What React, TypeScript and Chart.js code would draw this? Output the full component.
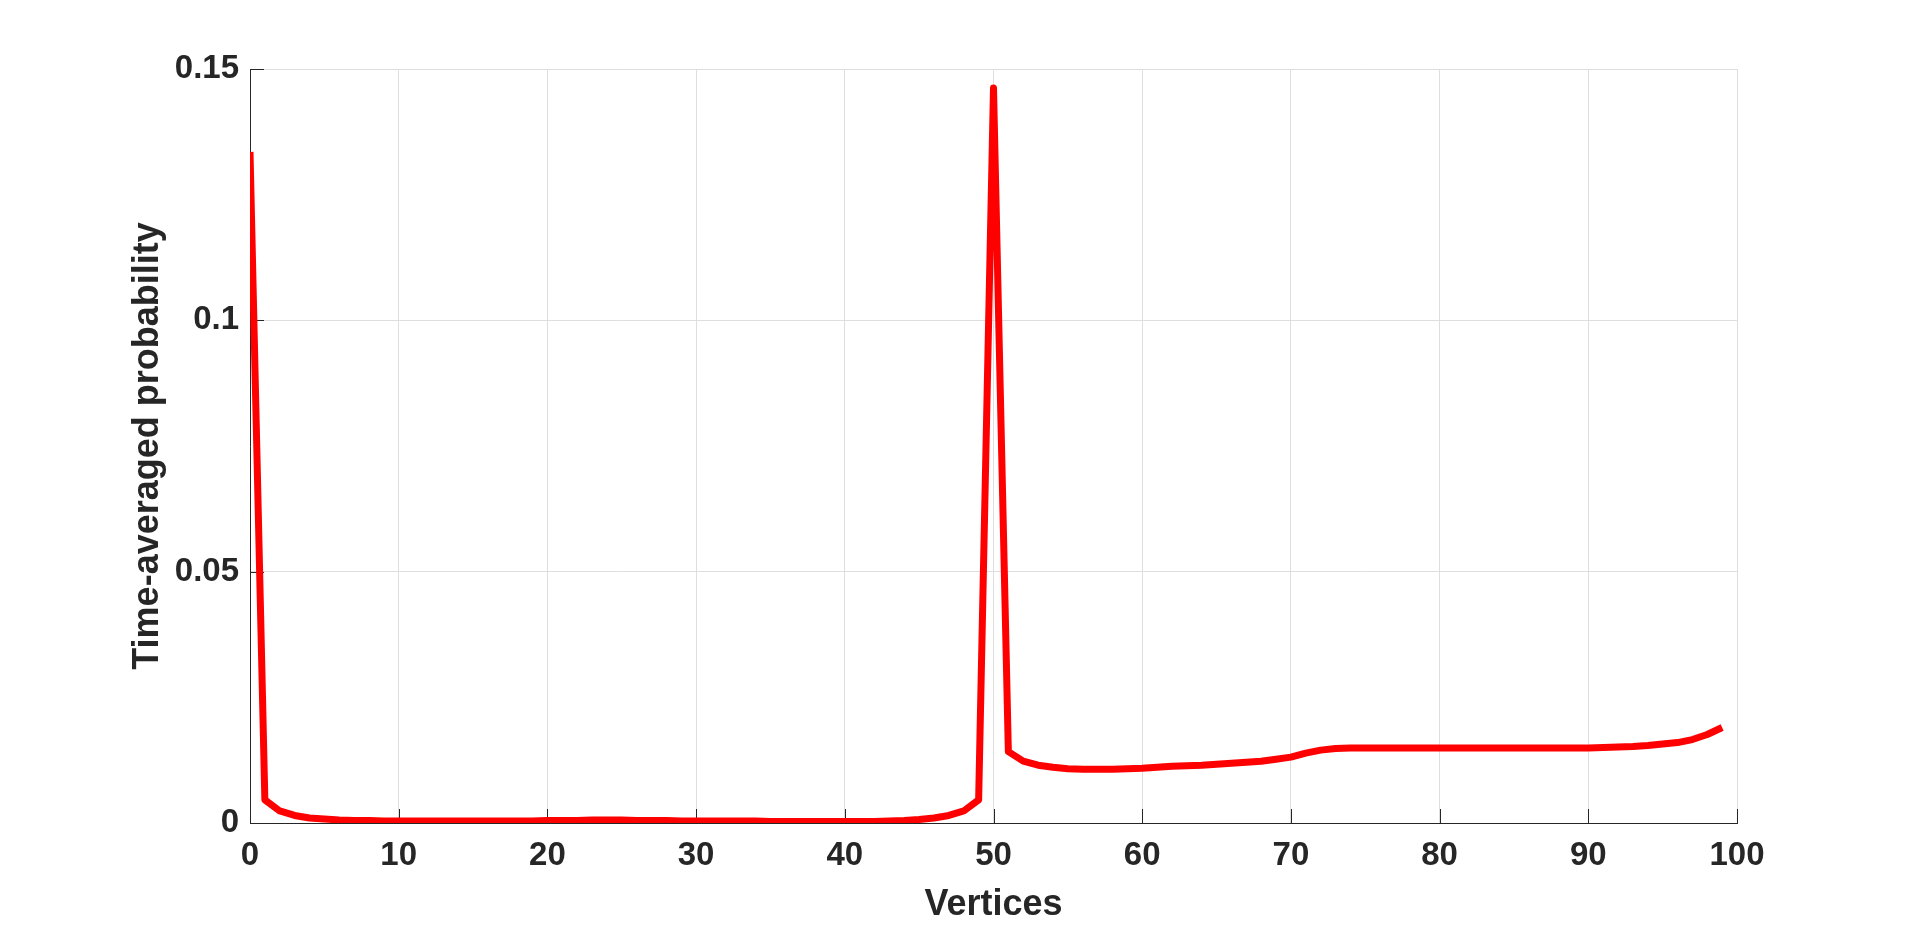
import React, { useEffect, useRef } from "react";
import { Chart, registerables } from "chart.js";

Chart.register(...registerables);

// ---- data ----
const xTickValues = [0, 10, 20, 30, 40, 50, 60, 70, 80, 90, 100];
const yTickValues = [0, 0.05, 0.1, 0.15];
const xAxisLabel = "Vertices";
const yAxisLabel = "Time-averaged probability";

// time-averaged probability on vertices 0..99
const probability = [
  0.1335, 0.0046, 0.0024, 0.0015, 0.0010, 0.0008, 0.0006, 0.0005, 0.0005, 0.0004,
  0.0004, 0.0004, 0.0004, 0.0004, 0.0004, 0.0004, 0.0004, 0.0004, 0.0004, 0.0004,
  0.0005, 0.0005, 0.0005, 0.0006, 0.0006, 0.0006, 0.0005, 0.0005, 0.0005, 0.0004,
  0.0004, 0.0004, 0.0004, 0.0004, 0.0004, 0.0003, 0.0003, 0.0003, 0.0003, 0.0003,
  0.0003, 0.0003, 0.0003, 0.0004, 0.0005, 0.0007, 0.0010, 0.0015, 0.0024, 0.0046,
  0.1462, 0.0142, 0.0123, 0.0115, 0.0111, 0.0108, 0.0107, 0.0107, 0.0107, 0.0108,
  0.0109, 0.0111, 0.0113, 0.0114, 0.0115, 0.0117, 0.0119, 0.0121, 0.0123, 0.0127,
  0.0131, 0.0139, 0.0145, 0.0148, 0.0149, 0.0149, 0.0149, 0.0149, 0.0149, 0.0149,
  0.0149, 0.0149, 0.0149, 0.0149, 0.0149, 0.0149, 0.0149, 0.0149, 0.0149, 0.0149,
  0.0149, 0.0150, 0.0151, 0.0152, 0.0154, 0.0157, 0.0160, 0.0166, 0.0176, 0.0190,
];

const vertices = probability.map((_, i) => i);

const TEXT = "#262626";
const GRID = "#dedede";
const FONT = "'Liberation Sans', Arial, Helvetica, sans-serif";

const inwardTicks = {
  id: "inwardTicks",
  beforeDatasetsDraw(chart: any) {
    const { ctx, chartArea, scales } = chart;
    const len = 14;
    ctx.save();
    ctx.strokeStyle = TEXT;
    ctx.lineWidth = 1;
    for (const v of xTickValues) {
      const px = Math.round(scales.x.getPixelForValue(v)) + 0.5;
      ctx.beginPath();
      ctx.moveTo(px, chartArea.bottom);
      ctx.lineTo(px, chartArea.bottom - len);
      ctx.stroke();
    }
    for (const v of yTickValues) {
      const py = Math.round(scales.y.getPixelForValue(v)) + 0.5;
      ctx.beginPath();
      ctx.moveTo(chartArea.left, py);
      ctx.lineTo(chartArea.left + len, py);
      ctx.stroke();
    }
    ctx.restore();
  },
};

export default function App() {
  const ref = useRef<HTMLCanvasElement | null>(null);

  useEffect(() => {
    if (!ref.current) return;
    const chart = new Chart(ref.current, {
      type: "line",
      data: {
        datasets: [
          {
            data: vertices.map((x, i) => ({ x, y: probability[i] })),
            borderColor: "#ff0000",
            backgroundColor: "#ff0000",
            borderWidth: 7,
            borderJoinStyle: "round",
            pointRadius: 0,
            tension: 0,
            fill: false,
          },
        ],
      },
      options: {
        responsive: false,
        animation: false,
        layout: { padding: { top: 69, right: 183, left: 0, bottom: 0 } },
        plugins: {
          legend: { display: false },
          tooltip: { enabled: false },
        },
        scales: {
          x: {
            type: "linear",
            min: 0,
            max: 100,
            afterFit: (s: any) => {
              s.height = 103;
            },
            afterBuildTicks: (s: any) => {
              s.ticks = xTickValues.map((v) => ({ value: v }));
            },
            ticks: {
              padding: 13,
              color: TEXT,
              font: { family: FONT, size: 33, weight: "bold" },
              maxRotation: 0,
              autoSkip: false,
            },
            grid: { color: GRID, lineWidth: 1, drawTicks: false },
            border: { display: true, color: TEXT, width: 1 },
            title: {
              display: true,
              text: xAxisLabel,
              color: TEXT,
              font: { family: FONT, size: 36, weight: "bold", lineHeight: 1 },
              padding: { top: 0, bottom: 3 },
            },
          },
          y: {
            type: "linear",
            min: 0,
            max: 0.15,
            afterFit: (s: any) => {
              s.width = 250;
            },
            afterBuildTicks: (s: any) => {
              s.ticks = yTickValues.map((v) => ({ value: v }));
            },
            ticks: {
              padding: 11,
              color: TEXT,
              font: { family: FONT, size: 33, weight: "bold" },
              autoSkip: false,
              callback: (v: any) => String(Number(Number(v).toFixed(4))),
            },
            grid: { color: GRID, lineWidth: 1, drawTicks: false },
            border: { display: true, color: TEXT, width: 1 },
            title: {
              display: true,
              text: yAxisLabel,
              color: TEXT,
              font: { family: FONT, size: 36, weight: "bold" },
              padding: { top: 126, bottom: 0 },
            },
          },
        },
      },
      plugins: [inwardTicks],
    });
    return () => chart.destroy();
  }, []);

  return (
    <div style={{ position: "absolute", left: 0, top: 0, width: 1920, height: 926, background: "#ffffff" }}>
      <canvas ref={ref} width={1920} height={926} style={{ display: "block" }} />
    </div>
  );
}
